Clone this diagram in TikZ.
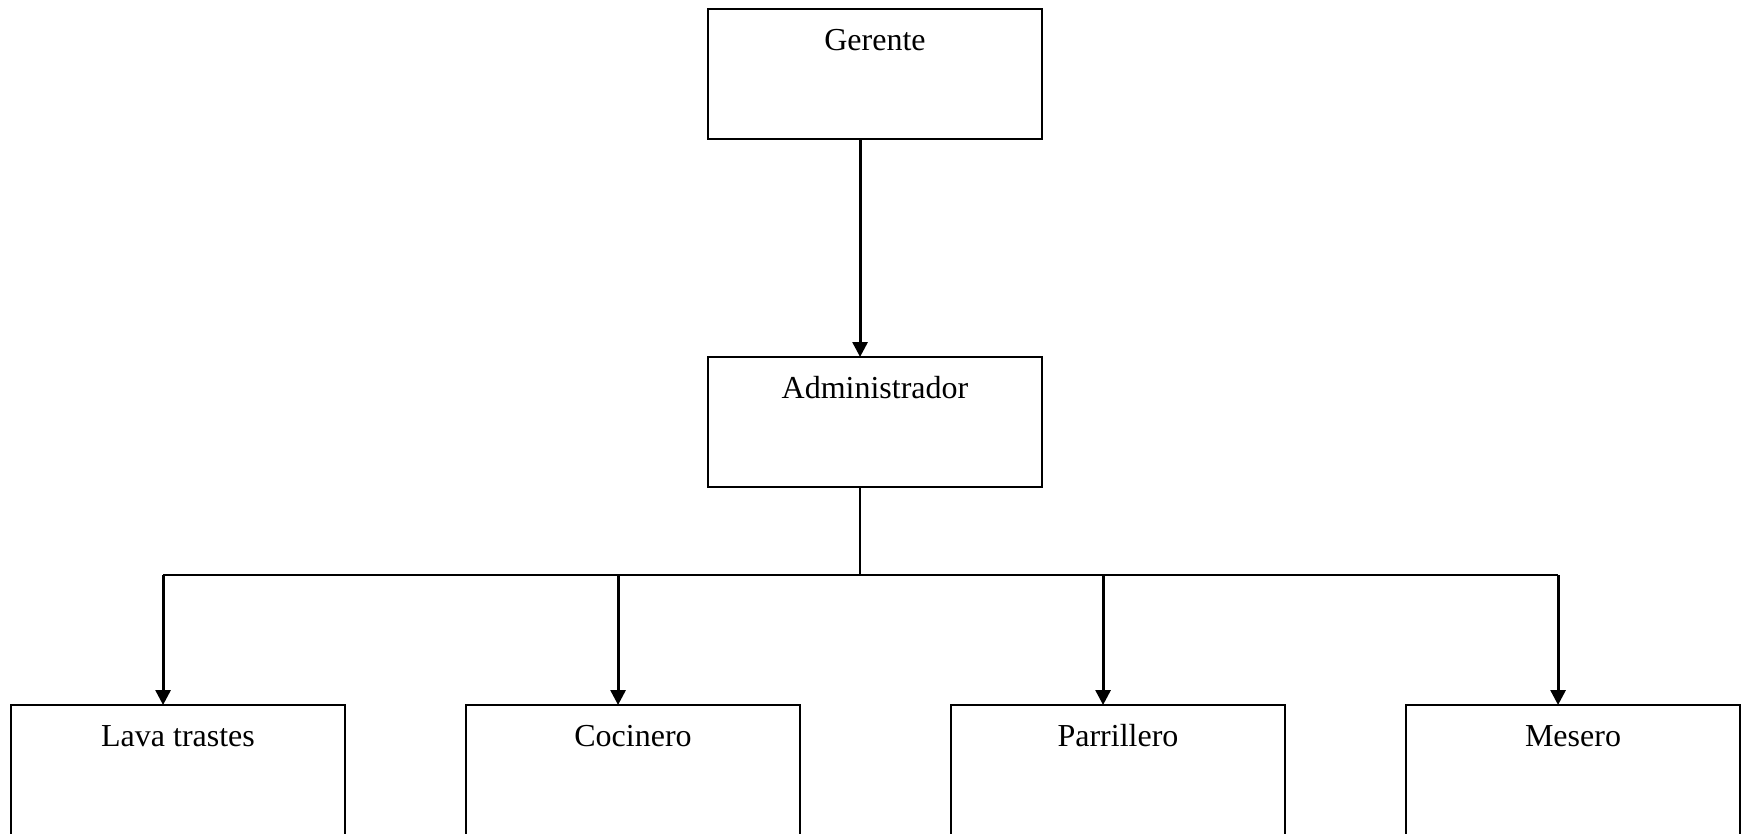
\documentclass[tikz,border=0pt]{standalone}
\usepackage{fontspec}
\setmainfont{Liberation Serif}
\usepackage{tikz}
\usetikzlibrary{arrows.meta, calc}

\tikzset{
  puesto/.style={draw=black, line width=0.75pt, rectangle, inner sep=0pt, outer sep=0pt,
    minimum width=125.25pt, text height=15.4pt, text depth=33.35pt, anchor=north west,
    font=\fontsize{12}{14}\selectfont},
  flecha/.style={line width=1.1pt, -{Triangle[length=5.6pt,width=5.6pt]}},
  linea/.style={line width=0.75pt}
}

\begin{document}
\begin{tikzpicture}[x=0.375pt, y=-0.375pt]
        \useasboundingbox (0,0) rectangle (1742,833);

        % Cargos
        \node[puesto] (ger) at (708,9) {Gerente};
        \node[puesto] (adm) at (708,357) {Administrador};
        \node[puesto] (lava) at (11,705) {Lava trastes};
        \node[puesto] (coc) at (466,705) {Cocinero};
        \node[puesto] (par) at (951,705) {Parrillero};
        \node[puesto] (mes) at (1406,705) {Mesero};

        % Puntos de llegada
        \coordinate (tronco) at ([xshift=-5.6pt]adm.south |- 0,575);
        \foreach \n in {lava,coc,par,mes}
            \coordinate (\n-in) at ([xshift=-5.6pt]\n.north);

        % Lineas
        \draw[flecha] (ger.south -| tronco) -- (adm.north -| tronco);
        \draw[linea] (adm.south -| tronco) -- (tronco);
        \draw[linea] (lava-in |- tronco) -- (mes-in |- tronco);
        \foreach \n in {lava,coc,par,mes}
            \draw[flecha] (\n-in |- tronco) -- (\n-in);
\end{tikzpicture}
\end{document}
